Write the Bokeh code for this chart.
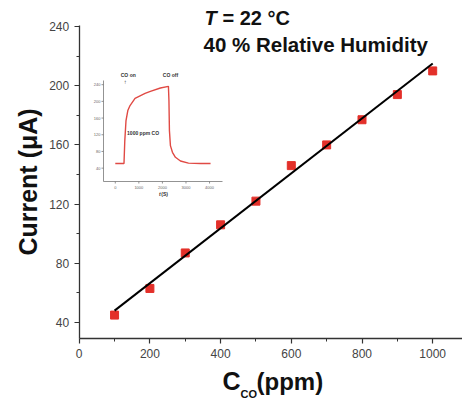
from bokeh.plotting import figure
from bokeh.models import Range1d, Label, FixedTicker
from bokeh.embed import file_html
from bokeh.resources import INLINE
from bokeh.core.properties import value

# ---- main data ----
conc = [100, 200, 300, 400, 500, 600, 700, 800, 900, 1000]
current = [45, 63, 87, 106, 122, 146, 160, 177, 194, 210]
fit_x = [100, 1000]
fit_y = [48, 215]
x_ticks = [0, 200, 400, 600, 800, 1000]
x_minor = [100, 300, 500, 700, 900]
y_ticks = [40, 80, 120, 160, 200, 240]
y_minor = [60, 100, 140, 180, 220]

# ---- inset data (response transient, 1000 ppm CO) ----
inset_t = [0, 370, 404, 455, 532, 626, 838, 1264, 1489, 1915, 2255,
           2277, 2298, 2340, 2426, 2553, 2766, 3106, 3617, 4043]
inset_i = [51, 51, 106, 154, 178, 190, 207, 219, 224, 232, 236,
           202, 130, 94, 78, 66, 57, 52, 51, 51]
inset_xticks = [0, 1000, 2000, 3000, 4000]
inset_xlabels = ["0", "1000", "2000", "3000", "4000"]
inset_yticks = [40, 80, 120, 160, 200, 240]
inset_ylabels = ["40", "80", "120", "160", "200", "240"]

FONT = "Liberation Sans"
AX = "#333333"

W, H = 462, 400
PX_PER_X = 0.3535   # pixels per ppm
PX_PER_Y = 1.48     # pixels per uA
X0_PX, Y40_PX = 78.7, 322.0


def px2x(px):
    return (px - X0_PX) / PX_PER_X


def py2y(py):
    return 40 + (Y40_PX - py) / PX_PER_Y


x_axis_at = py2y(338)   # value where the bottom axis sits

p = figure(width=W, height=H,
           x_range=Range1d(px2x(0), px2x(W)), y_range=Range1d(py2y(H), py2y(0)),
           output_backend="svg", toolbar_location=None,
           min_border_left=0, min_border_right=0,
           min_border_top=0, min_border_bottom=0)
p.outline_line_color = None
p.xgrid.visible = False
p.ygrid.visible = False
p.background_fill_color = "white"
p.border_fill_color = "white"

for ax, ticks, minor in ((p.xaxis[0], x_ticks, x_minor), (p.yaxis[0], y_ticks, y_minor)):
    ax.ticker = FixedTicker(ticks=ticks, minor_ticks=minor)
    ax.axis_line_color = AX
    ax.axis_line_width = 1.3
    ax.major_tick_line_color = AX
    ax.minor_tick_line_color = AX
    ax.major_tick_line_width = 1.2
    ax.major_tick_out = 5
    ax.major_tick_in = 0
    ax.minor_tick_out = 3
    ax.minor_tick_in = 0
    ax.major_label_text_font = FONT
    ax.major_label_text_font_size = "12px"
    ax.major_label_text_color = "#444444"
    ax.major_label_standoff = 5

p.xaxis.fixed_location = x_axis_at
p.xaxis.bounds = (0, px2x(W))
p.yaxis.fixed_location = 0
p.yaxis.bounds = (x_axis_at, 241)

p.yaxis.axis_label = "Current (μA)"
p.yaxis.axis_label_text_font = FONT
p.yaxis.axis_label_text_font_size = "25px"
p.yaxis.axis_label_text_font_style = "bold"
p.yaxis.axis_label_text_color = "#111111"
p.yaxis.axis_label_standoff = 4

p.scatter(conc, current, marker="square", size=8, color="#e3302a")
p.line(fit_x, fit_y, color="black", line_width=2)

# annotations
p.add_layout(Label(x=px2x(204), y=py2y(28), text="T", text_font=FONT,
                   text_font_size="20px", text_font_style="bold italic",
                   text_color="#111111"))
p.add_layout(Label(x=px2x(222), y=py2y(28), text="= 22 °C", text_font=FONT,
                   text_font_size="20px", text_font_style="bold",
                   text_color="#111111"))
p.add_layout(Label(x=px2x(203), y=py2y(55), text="40 % Relative Humidity",
                   text_font=FONT, text_font_size="20.5px", text_font_style="bold",
                   text_color="#111111"))

# x axis label  C_CO(ppm)
p.add_layout(Label(x=px2x(222), y=py2y(394), text="C", text_font=FONT,
                   text_font_size="25px", text_font_style="bold",
                   text_color="#111111"))
p.add_layout(Label(x=px2x(240), y=py2y(399), text="CO", text_font=FONT,
                   text_font_size="11px", text_font_style="bold",
                   text_color="#111111"))
p.add_layout(Label(x=px2x(256), y=py2y(394), text="(ppm)", text_font=FONT,
                   text_font_size="24px", text_font_style="bold",
                   text_color="#111111"))

# ---- inset via subplot coordinate mapping ----
ins_x0, ins_x1 = -500, 4550
ins_y0, ins_y1 = 8, 250
sub = p.subplot(x_source=Range1d(ins_x0, ins_x1), y_source=Range1d(ins_y0, ins_y1),
                x_target=Range1d(px2x(103), px2x(222)),
                y_target=Range1d(py2y(181), py2y(80)))

dx = 42.55  # inset x units per pixel
dy = 2.4    # inset y units per pixel
IAX = "#777777"
sub.segment(x0=[ins_x0, ins_x0], y0=[ins_y0, ins_y0],
            x1=[ins_x1, ins_x0], y1=[ins_y0, ins_y1], line_color=IAX, line_width=0.8)
sub.segment(x0=inset_xticks, y0=[ins_y0] * len(inset_xticks),
            x1=inset_xticks, y1=[ins_y0 - 2 * dy] * len(inset_xticks),
            line_color=IAX, line_width=0.8)
sub.segment(x0=[ins_x0] * len(inset_yticks), y0=inset_yticks,
            x1=[ins_x0 - 2 * dx] * len(inset_yticks), y1=inset_yticks,
            line_color=IAX, line_width=0.8)
sub.text(x=inset_xticks, y=[ins_y0 - 4 * dy] * len(inset_xticks), text=inset_xlabels,
         text_font=value(FONT), text_font_size="4px", text_color="#666666",
         text_align="center", text_baseline="top")
sub.text(x=[ins_x0 - 3 * dx] * len(inset_yticks), y=inset_yticks, text=inset_ylabels,
         text_font=value(FONT), text_font_size="4px", text_color="#666666",
         text_align="right", text_baseline="middle")

sub.line(inset_t, inset_i, line_color="#e04a44", line_width=1.4)

sub.text(x=[550, 2340], y=[262, 262], text=["CO on", "CO off"],
         text_font=value(FONT), text_font_size="5px", text_font_style="bold",
         text_color="#333333", text_align="center", text_baseline="middle")
sub.text(x=[425], y=[247], text=["↑"], text_font=value(FONT), text_font_size="6px",
         text_color="#333333", text_align="center", text_baseline="middle")
sub.text(x=[500], y=[125], text=["1000 ppm CO"], text_font=value(FONT),
         text_font_size="5px", text_font_style="bold", text_color="#333333",
         text_align="left", text_baseline="middle")
sub.text(x=[1930], y=[-22], text=["t"], text_font=value(FONT),
         text_font_size="5px", text_font_style="bold italic", text_color="#333333",
         text_align="right", text_baseline="middle")
sub.text(x=[1950], y=[-22], text=["(S)"], text_font=value(FONT),
         text_font_size="5px", text_font_style="bold", text_color="#333333",
         text_align="left", text_baseline="middle")

open("out.html", "w").write(file_html(p, INLINE))
